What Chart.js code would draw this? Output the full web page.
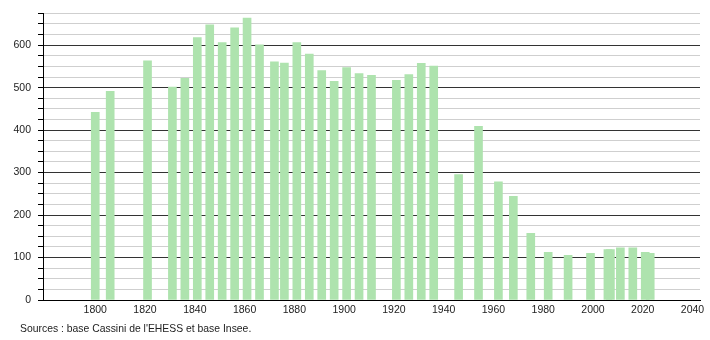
<!DOCTYPE html>
<html>
<head>
<meta charset="utf-8">
<script src="https://cdn.jsdelivr.net/npm/chart.js@4"></script>
<style>
  body { margin: 0; background: #fff; }
  #wrap { position: relative; width: 710px; height: 340px; }
  #sources {
    position: absolute; left: 20px; top: 323px;
    font: 10.4px "Liberation Sans", Arial, sans-serif; color: #222;
  }
</style>
</head>
<body>
<div id="wrap">
  <canvas id="chartPop" width="710" height="340"></canvas>
  <div id="sources">Sources : base Cassini de l'EHESS et base Insee.</div>
</div>
<script>
// ===== données =====
const annees = [1800, 1806, 1821, 1831, 1836, 1841, 1846, 1851, 1856, 1861,
    1866, 1872, 1876, 1881, 1886, 1891, 1896, 1901, 1906, 1911,
    1921, 1926, 1931, 1936, 1946, 1954, 1962, 1968, 1975, 1982,
    1990, 1999, 2006, 2007, 2011, 2016, 2021, 2023];
const population = [442, 491, 563, 501, 522, 618, 648, 606, 641, 664,
    601, 561, 558, 606, 579, 540, 515, 547, 533, 529,
    517, 531, 557, 551, 295, 409, 278, 244, 157, 112,
    105, 110, 119, 119, 123, 123, 112, 110];
const ticksAnnees = [1800, 1820, 1840, 1860, 1880, 1900, 1920, 1940, 1960, 1980, 2000, 2020, 2040];

const police = { family: "'Liberation Sans', Arial, sans-serif", size: 10.5 };

new Chart(document.getElementById("chartPop"), {
    type: "bar",
    data: {
        datasets: [{
            data: annees.map((a, i) => ({ x: a, y: population[i] })),
            backgroundColor: "#aee3ae",
            barThickness: 8
        }]
    },
    options: {
        responsive: false,
        animation: false,
        layout: { padding: { top: 4, right: 10, left: 0, bottom: 0 } },
        plugins: { legend: { display: false }, tooltip: { enabled: false } },
        scales: {
            x: {
                type: "linear",
                min: 1779,
                max: 2043,
                offset: false,
                grid: { display: false, drawTicks: false, tickLength: 0 },
                border: { display: true, color: "#000", width: 1 },
                afterBuildTicks: s => { s.ticks = ticksAnnees.map(v => ({ value: v })); },
                afterFit: s => { s.height = 40; },
                ticks: {
                    color: "#222", font: police, padding: 4, maxRotation: 0, autoSkip: false,
                    callback: v => String(v)
                }
            },
            y: {
                min: 0,
                max: 675,
                border: { display: true, color: "#000", width: 1 },
                grid: {
                    color: c => (c.tick && c.tick.value % 100 === 0) ? "#333" : "#cfcfcf",
                    tickColor: "#000",
                    tickLength: 5
                },
                afterFit: s => { s.width = 43; },
                ticks: {
                    stepSize: 25,
                    autoSkip: false,
                    color: "#222",
                    font: police,
                    padding: 7,
                    callback: v => (v % 100 === 0 ? v : "")
                }
            }
        }
    }
});
</script>
</body>
</html>
